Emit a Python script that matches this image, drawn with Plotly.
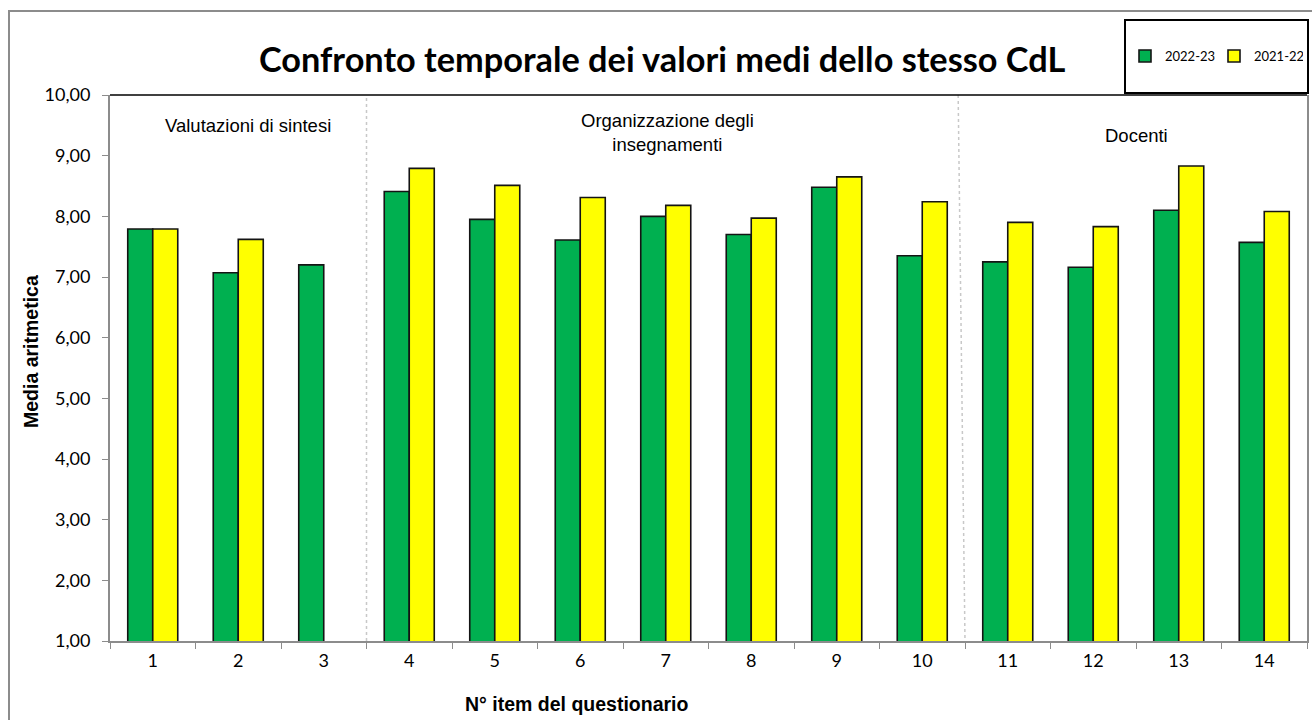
import plotly.graph_objects as go

# Questionnaire items and mean scores per academic year
items = [str(i) for i in range(1, 15)]
media_2022_23 = [7.79, 7.07, 7.20, 8.41, 7.95, 7.61, 8.00, 7.70, 8.48, 7.35, 7.25, 7.16, 8.10, 7.57]
media_2021_22 = [7.79, 7.62, None, 8.79, 8.51, 8.31, 8.18, 7.97, 8.65, 8.24, 7.90, 7.83, 8.83, 8.08]

# Section headings over the groups of items
sezioni = ["Valutazioni di sintesi", "Organizzazione degli<br>insegnamenti", "Docenti"]
y_ticks = [1, 2, 3, 4, 5, 6, 7, 8, 9, 10]

W, H = 1312, 720
L, R, T, B = 110, 5, 95, 79
pw, ph = W - L - R, H - T - B


def px_x(p):
    return (p - L) / pw


def px_y(p):
    return (H - B - p) / ph


fig = go.Figure()
fig.add_trace(go.Bar(
    x=items, y=media_2022_23, name="2022-23",
    marker=dict(color="#00B050", line=dict(color="#141414", width=1.6)),
))
fig.add_trace(go.Bar(
    x=items, y=media_2021_22, name="2021-22",
    marker=dict(color="#FFFF00", line=dict(color="#141414", width=1.6)),
))

shapes = [
    # outer chart frame
    dict(type="rect", xref="paper", yref="paper",
         x0=px_x(9), x1=px_x(1316), y0=px_y(730), y1=px_y(11),
         line=dict(color="#8c8c8c", width=2), layer="below"),
    # legend box
    dict(type="rect", xref="paper", yref="paper",
         x0=px_x(1125), x1=px_x(1308), y0=px_y(93), y1=px_y(20),
         line=dict(color="#000000", width=2), fillcolor="white"),
    # plot area top edge
    dict(type="line", xref="paper", yref="paper", x0=0, x1=1, y0=1, y1=1,
         line=dict(color="#000000", width=1.5)),
    # section separators
    dict(type="line", xref="x", yref="paper", x0=2.5, x1=2.5, y0=0, y1=1,
         line=dict(color="#c8c8c8", width=1.5, dash="dot"), layer="below"),
    dict(type="line", xref="x", yref="paper", x0=9.42, x1=9.5, y0=1, y1=0,
         line=dict(color="#c8c8c8", width=1.5, dash="dot"), layer="below"),
]

sec_font = dict(family="Liberation Sans", size=18.5, color="#000000")
title_font = dict(family="Liberation Sans", size=19.5, color="#000000", weight="bold")

annotations = [
    dict(text="Confronto temporale dei valori medi dello stesso CdL",
         xref="paper", yref="paper", x=px_x(662), y=px_y(58),
         showarrow=False, xanchor="center", yanchor="middle",
         font=dict(family="Lato", size=34.3, color="#000000", weight="bold")),
    dict(text=sezioni[0], xref="x", yref="y", x=1.11, y=9.5, showarrow=False,
         font=sec_font),
    dict(text=sezioni[1], xref="x", yref="y", x=6.02, y=9.38, showarrow=False,
         font=sec_font),
    dict(text=sezioni[2], xref="x", yref="y", x=11.51, y=9.33, showarrow=False,
         font=sec_font),
    dict(text="N° item del questionario", xref="paper", yref="paper",
         x=px_x(577), y=px_y(704), showarrow=False,
         xanchor="center", yanchor="middle", font=title_font),
    dict(text="Media aritmetica", xref="paper", yref="paper",
         x=px_x(31), y=px_y(352), showarrow=False, textangle=-90,
         xanchor="center", yanchor="middle", font=title_font),
]

fig.update_layout(
    width=W, height=H,
    margin=dict(l=L, r=R, t=T, b=B, autoexpand=False),
    paper_bgcolor="white", plot_bgcolor="white",
    separators=",.",
    barmode="group", bargap=0.415, bargroupgap=0,
    showlegend=True,
    legend=dict(orientation="h", x=px_x(1125), y=px_y(56),
                xanchor="left", yanchor="middle",
                bgcolor="rgba(0,0,0,0)", borderwidth=0,
                font=dict(family="Lato", size=13, color="#000000"),
                itemwidth=30, entrywidth=44, entrywidthmode="pixels"),
    shapes=shapes,
    annotations=annotations,
    xaxis=dict(type="category", tickson="boundaries", ticks="outside",
               ticklen=6, tickcolor="#8c8c8c", showline=True,
               linecolor="#8c8c8c", linewidth=2, showgrid=False,
               range=[-0.5, 13.5], ticklabelstandoff=2,
               tickfont=dict(family="Lato", size=18, color="#000000")),
    yaxis=dict(range=[1, 10], tickvals=y_ticks, tickformat=".2f",
               ticks="outside", ticklen=6, tickcolor="#8c8c8c",
               showline=True, linecolor="#8c8c8c", linewidth=2,
               mirror=True, showgrid=False, zeroline=False,
               ticklabelstandoff=8,
               tickfont=dict(family="Lato", size=18, color="#000000")),
)

fig.write_html("out.html")
